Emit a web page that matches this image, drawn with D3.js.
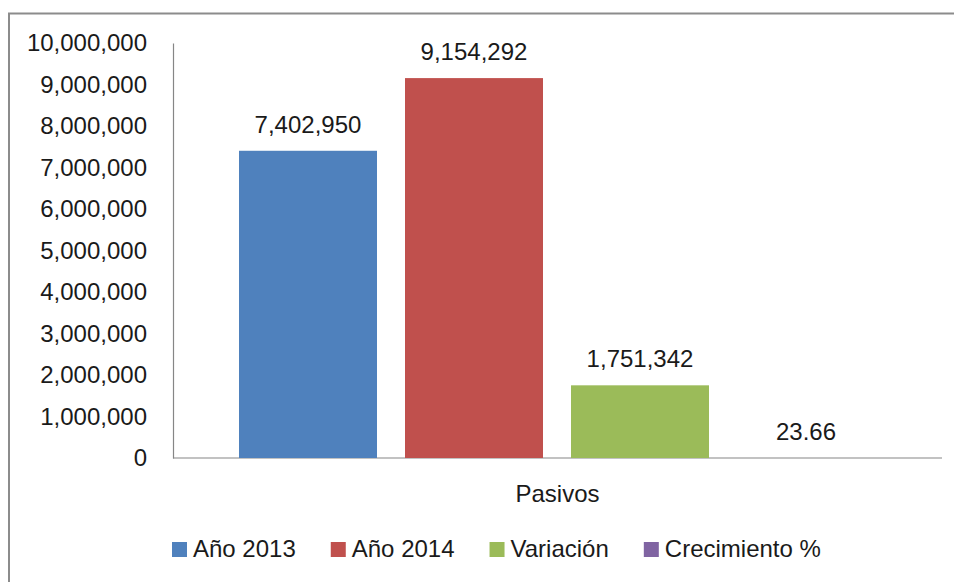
<!DOCTYPE html>
<html>
<head>
<meta charset="utf-8">
<script src="https://cdn.jsdelivr.net/npm/d3@7"></script>
<style>
  body { margin: 0; background: #fff; }
  svg text { font-family: "Liberation Sans", Arial, sans-serif; fill: #1a1a1a; }
</style>
</head>
<body>
<div id="chart"></div>
<script>
// data
var categories = ["Pasivos"];
var seriesNames = ["Año 2013", "Año 2014", "Variación", "Crecimiento %"];
var seriesValues = [7402950, 9154292, 1751342, 23.66];
var valueLabels = ["7,402,950", "9,154,292", "1,751,342", "23.66"];
var seriesColors = ["#4f81bd", "#c0504d", "#9bbb59", "#8064a2"];
var yTickValues = [0, 1000000, 2000000, 3000000, 4000000, 5000000, 6000000, 7000000, 8000000, 9000000, 10000000];

var width = 954, height = 582;
var fontSize = 24;

var svg = d3.select("#chart").append("svg")
    .attr("width", width)
    .attr("height", height);

// outer frame of the chart area (only top and left edges visible)
svg.append("path")
    .attr("d", "M9," + height + "V13.5H" + width)
    .attr("fill", "none")
    .attr("stroke", "#8c8c8c")
    .attr("stroke-width", 2);

var plot = {left: 173, right: 942, top: 43, bottom: 458};

// category scale, then series inside the category
var x0 = d3.scaleBand()
    .domain(categories)
    .range([plot.left, plot.right]);

var x1 = d3.scaleBand()
    .domain(seriesNames)
    .range([225, 889])
    .paddingInner(0.1687)
    .paddingOuter(0.0843);

var y = d3.scaleLinear()
    .domain([0, 10000000])
    .range([plot.bottom, plot.top]);

var fmt = d3.format(",");

// y axis
var yAxis = svg.append("g")
    .attr("transform", "translate(" + plot.left + ",0)")
    .call(d3.axisLeft(y).tickValues(yTickValues).tickSize(0).tickPadding(26).tickFormat(fmt));
yAxis.select(".domain").attr("stroke", "#868686").attr("stroke-width", 1.2);
yAxis.selectAll("text")
    .attr("font-size", fontSize)
    .attr("font-family", "Liberation Sans, Arial, sans-serif")
    .attr("fill", "#1a1a1a");

// x axis baseline and category label
svg.append("line")
    .attr("x1", plot.left)
    .attr("x2", plot.right)
    .attr("y1", y(0))
    .attr("y2", y(0))
    .attr("stroke", "#868686")
    .attr("stroke-width", 1.2);

svg.selectAll(".cat-label")
    .data(categories)
    .enter().append("text")
    .attr("class", "cat-label")
    .attr("x", function(d) { return x0(d) + x0.bandwidth() / 2; })
    .attr("y", 502)
    .attr("text-anchor", "middle")
    .attr("font-size", fontSize)
    .text(function(d) { return d; });

// bars
var barData = seriesNames.map(function(s, i) {
    return {name: s, value: seriesValues[i], label: valueLabels[i], color: seriesColors[i]};
});

svg.append("g")
    .selectAll("rect")
    .data(barData)
    .enter().append("rect")
    .attr("x", function(d) { return x1(d.name); })
    .attr("y", function(d) { return y(d.value); })
    .attr("width", x1.bandwidth())
    .attr("height", function(d) { return y(0) - y(d.value); })
    .attr("fill", function(d) { return d.color; });

// data labels
svg.append("g")
    .selectAll("text")
    .data(barData)
    .enter().append("text")
    .attr("x", function(d) { return x1(d.name) + x1.bandwidth() / 2; })
    .attr("y", function(d) { return y(d.value) - 18; })
    .attr("text-anchor", "middle")
    .attr("font-size", fontSize)
    .text(function(d) { return d.label; });

// legend
var legend = svg.append("g").attr("transform", "translate(172,0)");
var lx = 0;
barData.forEach(function(d) {
    var item = legend.append("g").attr("transform", "translate(" + lx + ",0)");
    item.append("rect")
        .attr("x", 0)
        .attr("y", 542)
        .attr("width", 15)
        .attr("height", 15)
        .attr("fill", d.color);
    var t = item.append("text")
        .attr("x", 21)
        .attr("y", 557)
        .attr("font-size", fontSize)
        .text(d.name);
    lx += 21 + t.node().getComputedTextLength() + 35;
});
</script>
</body>
</html>
